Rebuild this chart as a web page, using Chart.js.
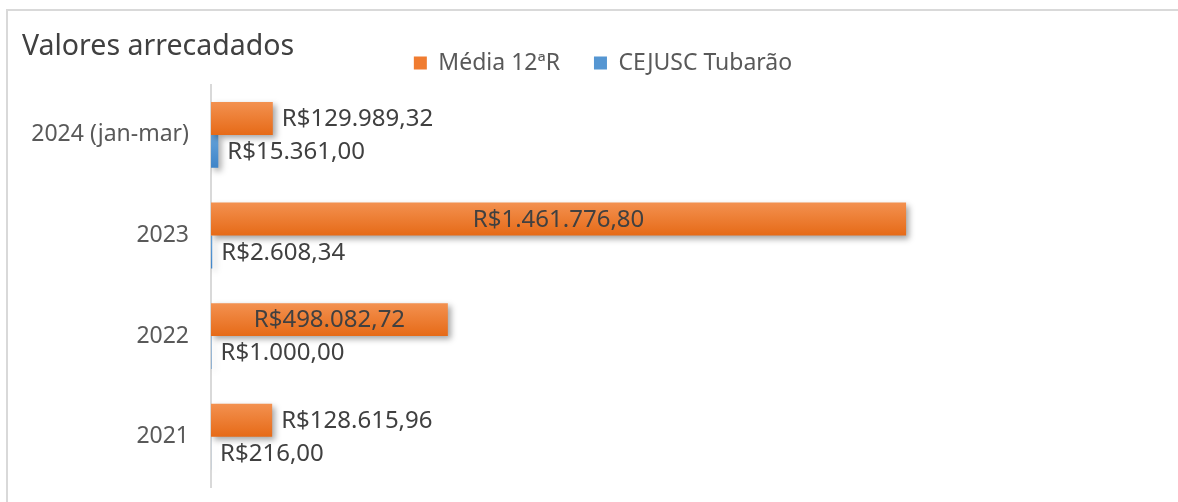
<!DOCTYPE html>
<html>
<head>
<meta charset="utf-8">
<script src="https://cdn.jsdelivr.net/npm/chart.js@4"></script>
<style>
  html, body { margin: 0; padding: 0; background: #fff; }
  #frame { position: absolute; left: 6px; top: 9px; width: 1172px; height: 493px;
           border-top: 2px solid #d9d9d9; border-left: 2px solid #d9d9d9; box-sizing: border-box; }
  #wrap { position: absolute; left: 0; top: 0; width: 1178px; height: 502px; }
</style>
</head>
<body>
<div id="frame"></div>
<div id="wrap"><canvas id="myChart" width="1178" height="502"></canvas></div>
<script>
var years = ['2024 (jan-mar)', '2023', '2022', '2021'];
var media12R = [129989.32, 1461776.80, 498082.72, 128615.96];
var cejuscTubarao = [15361.00, 2608.34, 1000.00, 216.00];
var seriesNames = ['Média 12ªR', 'CEJUSC Tubarão'];
var legendColors = ['#f07c30', '#5596d2'];

var FONT = '"Noto Sans", "DejaVu Sans", sans-serif';
var GROUP = 0.655;

function brl(v) {
  var parts = v.toFixed(2).split('.');
  return 'R$' + parts[0].replace(/\B(?=(\d{3})+(?!\d))/g, '.') + ',' + parts[1];
}

// vertical gradient per bar, like the office-style fill
function shade(top, bottom) {
  return function (c) {
    var ys = c.chart.scales.y;
    if (!ys || !isFinite(ys.top) || !ys.height || c.dataIndex === undefined) return top;
    var band = ys.height / years.length;
    var barH = band * GROUP / 2;
    var y0 = ys.getPixelForValue(c.dataIndex) - band * GROUP / 2 + c.datasetIndex * barH;
    if (!isFinite(y0)) return top;
    var g = c.chart.ctx.createLinearGradient(0, y0, 0, y0 + barH);
    g.addColorStop(0, top);
    g.addColorStop(1, bottom);
    return g;
  };
}

var barShadow = {
  id: 'barShadow',
  beforeDatasetsDraw: function (chart) {
    var ctx = chart.ctx;
    ctx.save();
    ctx.shadowColor = 'rgba(0,0,0,0.35)';
    ctx.shadowBlur = 6;
    ctx.shadowOffsetX = 3;
    ctx.shadowOffsetY = 3;
  },
  afterDatasetsDraw: function (chart) {
    chart.ctx.restore();
  }
};

var valueLabels = {
  id: 'valueLabels',
  afterDatasetsDraw: function (chart) {
    var ctx = chart.ctx;
    ctx.save();
    ctx.font = '24px ' + FONT;
    ctx.fillStyle = '#404040';
    ctx.textBaseline = 'middle';
    chart.data.datasets.forEach(function (ds, di) {
      var meta = chart.getDatasetMeta(di);
      meta.data.forEach(function (bar, i) {
        var p = bar.getProps(['x', 'y', 'base'], true);
        var txt = brl(ds.data[i]);
        var w = ctx.measureText(txt).width;
        var len = p.x - p.base;
        if (w + 20 < len) {
          ctx.textAlign = 'center';
          ctx.fillText(txt, (p.x + p.base) / 2, p.y + 1);
        } else {
          ctx.textAlign = 'left';
          ctx.fillText(txt, p.x + 9, p.y + 1);
        }
      });
    });
    ctx.restore();
  }
};

var nudgeLegend = {
  id: 'nudgeLegend',
  afterLayout: function (chart) {
    if (chart.legend) {
      chart.legend.left += 11;
      chart.legend.right += 11;
    }
  }
};

var ctx = document.getElementById('myChart').getContext('2d');
var myChart = new Chart(ctx, {
  type: 'bar',
  data: {
    labels: years,
    datasets: [{
      label: seriesNames[0],
      data: media12R,
      backgroundColor: shade('#f39150', '#e66a17'),
      borderWidth: 0
    }, {
      label: seriesNames[1],
      data: cejuscTubarao,
      backgroundColor: shade('#66a3da', '#3f84c8'),
      borderWidth: 0
    }]
  },
  options: {
    indexAxis: 'y',
    responsive: false,
    animation: false,
    categoryPercentage: GROUP,
    barPercentage: 1,
    layout: { padding: { left: 22, right: 16, top: 0, bottom: 15 } },
    scales: {
      x: { display: false, min: 0, max: 2000000 },
      y: {
        grid: { display: true, drawOnChartArea: false, drawTicks: true, tickLength: 22, color: 'rgba(0,0,0,0)' },
        border: { display: true, color: '#d9d9d9', width: 2 },
        ticks: { color: '#595959', padding: 0, font: { family: FONT, size: 23 } },
        afterFit: function (scale) { scale.width = 189; }
      }
    },
    plugins: {
      title: {
        display: true,
        text: 'Valores arrecadados',
        align: 'start',
        color: '#404040',
        font: { family: FONT, size: 28.5, weight: 'normal' },
        padding: { top: 30, bottom: -46.6 }
      },
      legend: {
        position: 'top',
        labels: {
          color: '#595959',
          boxWidth: 13,
          boxHeight: 13,
          padding: 34,
          font: { family: FONT, size: 23 },
          generateLabels: function (chart) {
            var items = Chart.defaults.plugins.legend.labels.generateLabels(chart);
            items.forEach(function (it, i) {
              it.fillStyle = legendColors[i];
              it.strokeStyle = legendColors[i];
              it.lineWidth = 0;
            });
            return items;
          }
        }
      },
      tooltip: { enabled: false }
    }
  },
  plugins: [barShadow, valueLabels, nudgeLegend]
});
</script>
</body>
</html>
